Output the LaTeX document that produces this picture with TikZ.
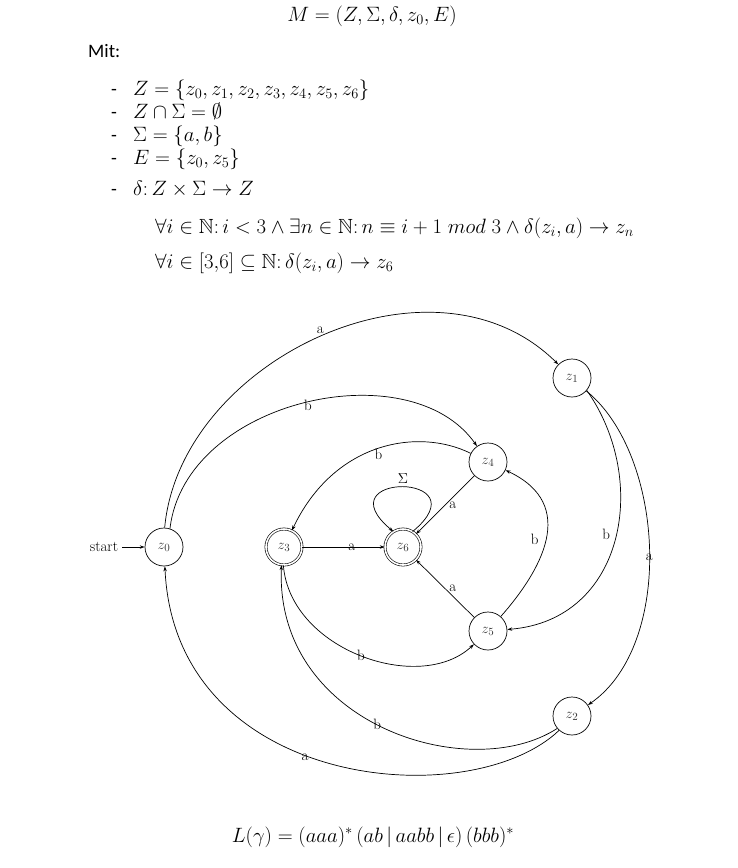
\documentclass[tikz,border=0pt]{standalone}
\usepackage{fontspec}
\usepackage{amssymb}
\newfontfamily\calibri{Carlito}
\usetikzlibrary{arrows.meta}
\tikzset{
  state/.style={circle, draw, line width=0.7pt, minimum size=38pt, inner sep=0pt, text=black!80},
  accepting/.style={circle, draw, line width=0.6pt, double, double distance=1.6pt, minimum size=36pt, inner sep=0pt, text=black!80},
  trans/.style={draw, line width=0.7pt, -{Stealth[length=5pt,width=3.4pt]}},
  lbl/.style={inner sep=1pt},
  mathtxt/.style={inner sep=0pt, font=\fontsize{20.5}{24}\selectfont},
  dashtxt/.style={inner sep=0pt, font=\calibri\fontsize{19}{22}\selectfont}
}
\begin{document}
\begin{tikzpicture}[x=1pt,y=-1pt]
\useasboundingbox (0,0) rectangle (737,868);
% ---- text part ----
\node[mathtxt, anchor=base] (t0) at (372,21) {$M=(Z,\Sigma,\delta,z_0,E)$};
\node[dashtxt, anchor=base west] (mit) at (88,57) {Mit:};
\foreach \yy/\nm in {95/d1,118/d2,141/d3,164/d4,195/d5}{
  \node[dashtxt, anchor=base west] (\nm) at (111,\yy) {-};
}
\node[mathtxt, anchor=base west] (l1) at (133,95) {$Z=\{z_0,z_1,z_2,z_3,z_4,z_5,z_6\}$};
\node[mathtxt, anchor=base west] (l2) at (133,118) {$Z\cap\Sigma=\emptyset$};
\node[mathtxt, anchor=base west] (l3) at (133,141) {$\Sigma=\{a,b\}$};
\node[mathtxt, anchor=base west] (l4) at (133,164) {$E=\{z_0,z_5\}$};
\node[mathtxt, anchor=base west] (l5) at (133,195) {$\delta{:}\,Z\times\Sigma\to Z$};
\node[mathtxt, anchor=base west] (f1) at (155,233) {$\forall i\in\mathbb{N}{:}\,i<3\wedge\exists n\in\mathbb{N}{:}\,n\equiv i+1\;mod\;3\wedge\delta(z_i,a)\to z_n$};
\node[mathtxt, anchor=base west] (f2) at (155,268) {$\forall i\in[3{,}6]\subseteq\mathbb{N}{:}\,\delta(z_i,a)\to z_6$};
\node[mathtxt, anchor=base, font=\fontsize{21}{24}\selectfont] (lg) at (373,842) {$L(\gamma)=(aaa)^*\,(ab\,|\,aabb\,|\,\epsilon)\,(bbb)^*$};
% ---- automaton ----
\begin{scope}[font=\fontsize{15}{18}\selectfont]
\node[state] (z0) at (164,547) {$z_0$};
\node[accepting] (z3) at (284,547) {$z_3$};
\node[accepting] (z6) at (403,547) {$z_6$};
\node[state] (z4) at (488,462) {$z_4$};
\node[state] (z5) at (488,631) {$z_5$};
\node[state] (z1) at (572,378) {$z_1$};
\node[state] (z2) at (572,716) {$z_2$};
\node[inner sep=0pt, outer sep=4pt] (st) at (104,547) {start};
\draw[trans] (st) -- (z0);
% z0 -> z1 a
\draw[trans] (z0.88) .. controls (180,360) and (433,240) .. node[lbl, pos=0.5, yshift=6pt] {a} (z1);
% z0 -> z4 b
\draw[trans] (z0.72) .. controls (185,400) and (410,350) .. node[lbl, pos=0.51, yshift=-3pt] {b} (z4);
% z4 -> z3 b
\draw[trans] (z4) .. controls (420,428) and (335,440) .. node[lbl, pos=0.5, anchor=north, yshift=1pt] {b} (z3);
% z4 -> z6 a
\draw[trans] (z4) -- node[lbl, pos=0.5, right=3pt] {a} (z6);
% z5 -> z6 a
\draw[trans] (z5) -- node[lbl, pos=0.5, right=3pt] {a} (z6);
% z3 -> z6 a
\draw[trans] (z3) -- node[lbl, pos=0.6] {a} (z6);
% loop
\draw[trans] (z6.58) .. controls (484,472) and (322,472) .. node[lbl, pos=0.5, anchor=south, yshift=2pt] {$\Sigma$} (z6.122);
% z5 -> z4 b
\draw[trans] (z5) .. controls (540,572) and (580,505) .. node[lbl, pos=0.5, left=6pt] {b} (z4);
% z1 -> z5 b
\draw[trans] (z1.-40) .. controls (650,480) and (625,620) .. node[lbl, pos=0.48, left=5pt] {b} (z5);
% z1 -> z2 a
\draw[trans] (z1.-42) .. controls (665,455) and (675,645) .. node[lbl, pos=0.52] {a} (z2);
% z3 -> z5 b
\draw[trans] (z3.-92) .. controls (290,650) and (420,695) .. node[lbl, pos=0.5] {b} (z5);
% z2 -> z3 b
\draw[trans] (z2.-140) .. controls (470,785) and (275,725) .. node[lbl, pos=0.52] {b} (z3.-98);
% z2 -> z0 a
\draw[trans] (z2.-132) .. controls (470,815) and (175,790) .. node[lbl, pos=0.55, below left=-3pt] {a} (z0);
\end{scope}
\end{tikzpicture}
\end{document}
